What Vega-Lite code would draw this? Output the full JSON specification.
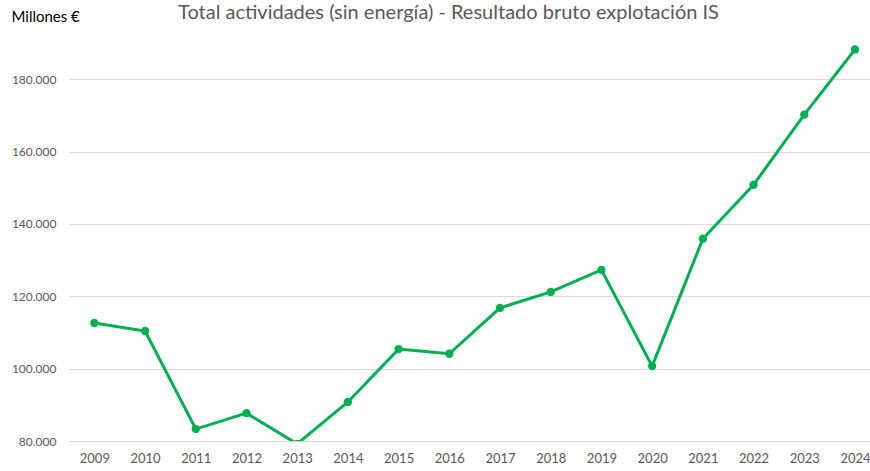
{
  "$schema": "https://vega.github.io/schema/vega-lite/v6.json",
  "autosize": "none",
  "width": 801,
  "height": 398,
  "padding": {"left": 69, "top": 43, "right": 0, "bottom": 30},
  "background": "white",
  "config": {"view": {"stroke": null}, "font": "Lato"},
  "title": {
    "text": "Total actividades (sin energía) - Resultado bruto explotación IS",
    "font": "Lato",
    "fontSize": 20,
    "fontWeight": "normal",
    "color": "#595959",
    "anchor": "middle",
    "dx": -21,
    "offset": -30,
    "baseline": "alphabetic"
  },
  "data": {
    "values": [
      {"year": 2009, "value": 112600},
      {"year": 2010, "value": 110400},
      {"year": 2011, "value": 83300},
      {"year": 2012, "value": 87700},
      {"year": 2013, "value": 79200},
      {"year": 2014, "value": 90800},
      {"year": 2015, "value": 105400},
      {"year": 2016, "value": 104100},
      {"year": 2017, "value": 116800},
      {"year": 2018, "value": 121200},
      {"year": 2019, "value": 127300},
      {"year": 2020, "value": 100700},
      {"year": 2021, "value": 135900},
      {"year": 2022, "value": 150800},
      {"year": 2023, "value": 170200},
      {"year": 2024, "value": 188200}
    ]
  },
  "encoding": {
    "x": {
      "field": "year",
      "type": "quantitative",
      "scale": {"domain": [2008.5, 2024.296], "nice": false, "zero": false},
      "axis": {
        "title": null,
        "values": [2009, 2010, 2011, 2012, 2013, 2014, 2015, 2016, 2017, 2018, 2019, 2020, 2021, 2022, 2023, 2024],
        "format": "d",
        "grid": false,
        "ticks": false,
        "domain": true,
        "domainColor": "#D9D9D9",
        "domainWidth": 1,
        "labelFont": "Lato",
        "labelFontSize": 13,
        "labelColor": "#595959",
        "labelPadding": 11,
        "labelFlush": false
      }
    },
    "y": {
      "field": "value",
      "type": "quantitative",
      "scale": {"domain": [80000, 190000], "nice": false, "zero": false},
      "axis": {
        "title": "Millones €",
        "titleAngle": 0,
        "titleX": -58,
        "titleY": -22,
        "titleAlign": "left",
        "titleBaseline": "alphabetic",
        "titleFont": "Lato",
        "titleFontSize": 15,
        "titleFontWeight": "normal",
        "titleColor": "#000000",
        "values": [80000, 100000, 120000, 140000, 160000, 180000],
        "labelExpr": "replace(format(datum.value, ','), ',', '.')",
        "labelFont": "Lato",
        "labelFontSize": 12,
        "labelColor": "#595959",
        "labelPadding": 13,
        "ticks": false,
        "domain": false,
        "grid": true,
        "gridColor": "#D9D9D9",
        "gridWidth": 1
      }
    }
  },
  "layer": [
    {"mark": {"type": "line", "color": "#00B050", "strokeWidth": 3, "clip": true}},
    {"mark": {"type": "point", "filled": true, "color": "#00B050", "size": 70, "opacity": 1, "clip": true}}
  ]
}
